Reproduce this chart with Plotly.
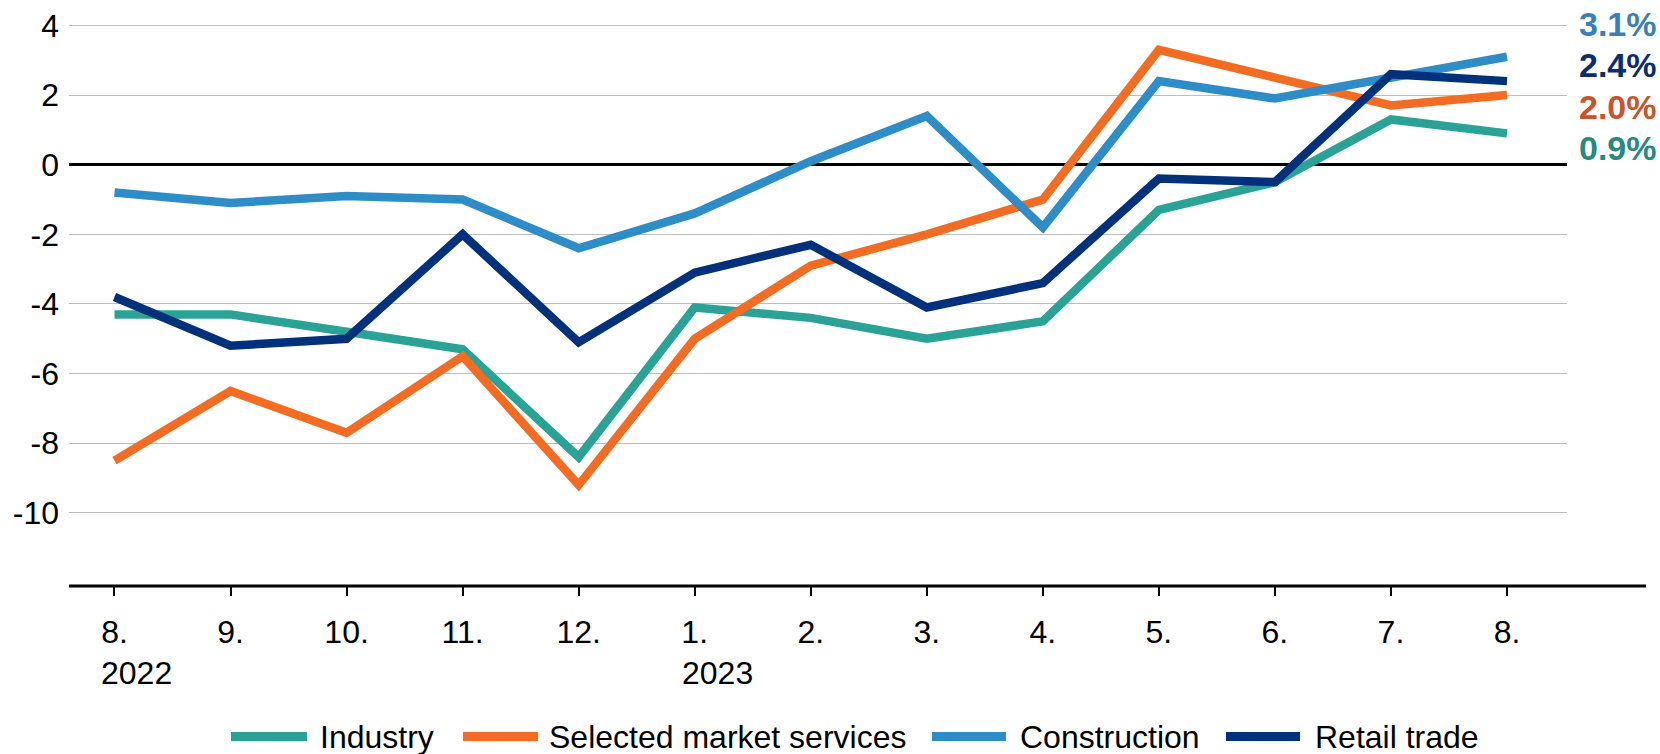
import plotly.graph_objects as go

# ---------------- data ----------------
months = ["8.", "9.", "10.", "11.", "12.", "1.", "2.", "3.", "4.", "5.", "6.", "7.", "8."]
years = ["2022", "", "", "", "", "2023", "", "", "", "", "", "", ""]

industry = [-4.3, -4.3, -4.8, -5.3, -8.4, -4.1, -4.4, -5.0, -4.5, -1.3, -0.5, 1.3, 0.9]
services = [-8.5, -6.5, -7.7, -5.5, -9.2, -5.0, -2.9, -2.0, -1.0, 3.3, 2.5, 1.7, 2.0]
construction = [-0.8, -1.1, -0.9, -1.0, -2.4, -1.4, 0.1, 1.4, -1.8, 2.4, 1.9, 2.5, 3.1]
retail = [-3.8, -5.2, -5.0, -2.0, -5.1, -3.1, -2.3, -4.1, -3.4, -0.4, -0.5, 2.6, 2.4]

series_names = ["Industry", "Selected market services", "Construction", "Retail trade"]
series_values = [industry, services, construction, retail]
line_colors = ["#2aa396", "#f36c24", "#2e8cc7", "#00317a"]
label_colors = ["#268a7e", "#c9532b", "#3a7fb6", "#0b2c6e"]

y_ticks = [4, 2, 0, -2, -4, -6, -8, -10]

# ---------------- layout geometry (pixels) ----------------
W, H = 1660, 754
L, R_EDGE, T, B_EDGE = 69, 1567, 8, 585.6
PW, PH = R_EDGE - L, B_EDGE - T


def px_x(p):
    return (p - L) / PW


def px_y(p):
    return 1 - (p - T) / PH


FONT = "Liberation Sans, Arial, sans-serif"

x = list(range(len(months)))
fig = go.Figure()
for name, vals, col in zip(series_names, series_values, line_colors):
    fig.add_trace(go.Scatter(x=x, y=vals, name=name, mode="lines",
                             line=dict(color=col, width=8.5), showlegend=False,
                             hoverinfo="skip"))

fig.update_layout(
    width=W, height=H,
    margin=dict(l=L, r=W - R_EDGE, t=T, b=H - B_EDGE, pad=0),
    plot_bgcolor="white", paper_bgcolor="white",
    font=dict(family=FONT, size=32, color="black"),
    xaxis=dict(range=[-0.392, 12.517], tickmode="array", tickvals=x, ticktext=months,
               showgrid=False, zeroline=False, showline=False,
               ticks="outside", ticklen=9, tickwidth=2, tickcolor="black",
               tickfont=dict(family=FONT, size=32), ticklabelstandoff=9),
    yaxis=dict(range=[-12.1, 4.5], tickmode="array", tickvals=y_ticks,
               ticktext=[str(v) for v in y_ticks],
               showgrid=True, gridcolor="#bdbdbd", gridwidth=1.3,
               zeroline=True, zerolinecolor="black", zerolinewidth=2.5,
               showline=False, ticks="", ticklabelstandoff=9,
               tickfont=dict(family=FONT, size=32)),
)

# year labels under the month ticks
for xi, yr in zip(x, years):
    if yr:
        fig.add_annotation(xref="x", yref="paper", x=xi, y=px_y(673), xshift=-15,
                           xanchor="left", yanchor="middle", showarrow=False,
                           text=yr, font=dict(family=FONT, size=32, color="black"))

# extended x-axis baseline
fig.add_shape(type="line", xref="paper", yref="paper",
              x0=0, x1=px_x(1646), y0=0, y1=0,
              line=dict(color="black", width=3), layer="above")

# end labels
label_py = {"Construction": 24, "Retail trade": 65, "Selected market services": 107, "Industry": 148}
for name, vals, col in zip(series_names, series_values, label_colors):
    fig.add_annotation(xref="paper", yref="paper", x=px_x(1577), y=px_y(label_py[name]),
                       xanchor="left", yanchor="middle", showarrow=False,
                       text=f"<b>{vals[-1]:.1f}%</b>",
                       font=dict(family=FONT, size=34, color=col))

# custom legend
legend_y = 736
swatches = [(231, 307, 318), (463, 538, 547), (932, 1006, 1018), (1226, 1300, 1313)]
for (x0, x1, tx), name, col in zip(swatches, series_names, line_colors):
    fig.add_shape(type="line", xref="paper", yref="paper",
                  x0=px_x(x0), x1=px_x(x1), y0=px_y(legend_y), y1=px_y(legend_y),
                  line=dict(color=col, width=9))
    fig.add_annotation(xref="paper", yref="paper", x=px_x(tx), y=px_y(legend_y),
                       xanchor="left", yanchor="middle", showarrow=False,
                       text=name, font=dict(family=FONT, size=32, color="black"))

fig.write_html("out.html", config={"displayModeBar": False},
               post_script="document.body.style.margin='0';document.body.style.overflow='hidden';")
